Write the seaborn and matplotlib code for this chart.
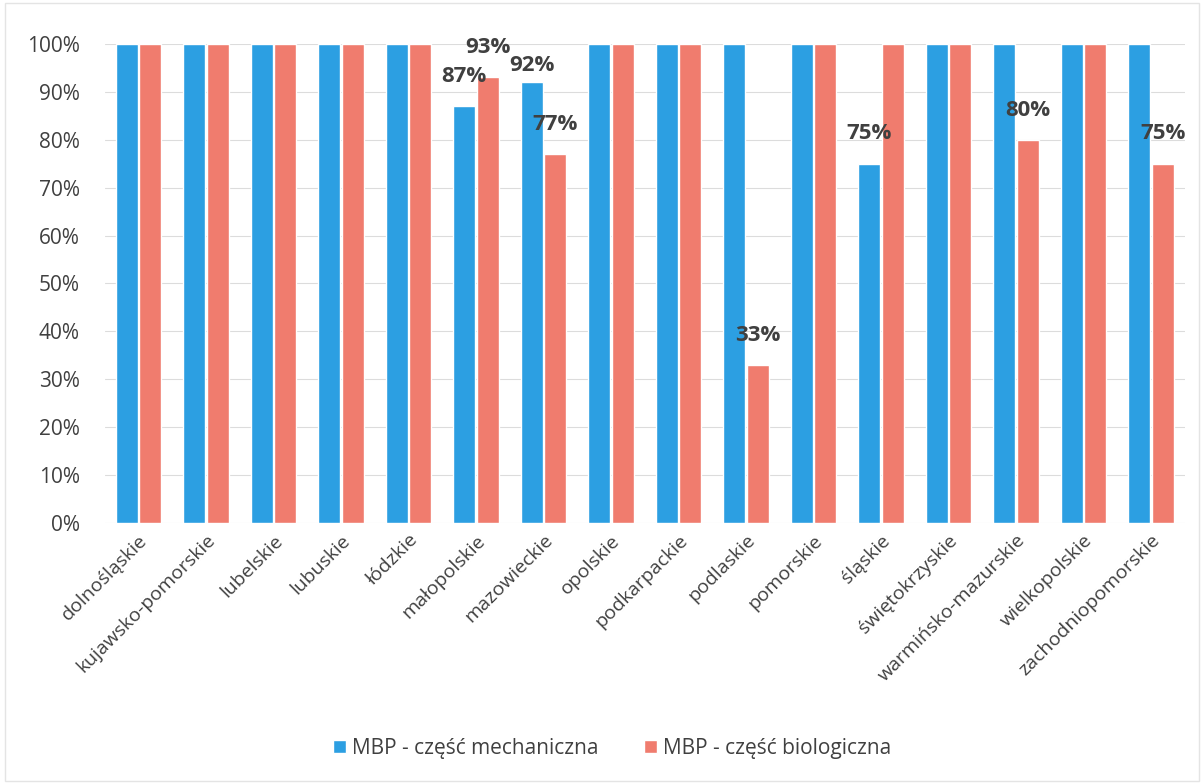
import pandas as pd
import seaborn as sns
import matplotlib.pyplot as plt
from matplotlib.ticker import FuncFormatter

regions = ['dolnośląskie', 'kujawsko-pomorskie', 'lubelskie', 'lubuskie', 'łódzkie',
           'małopolskie', 'mazowieckie', 'opolskie', 'podkarpackie', 'podlaskie',
           'pomorskie', 'śląskie', 'świętokrzyskie', 'warmińsko-mazurskie',
           'wielkopolskie', 'zachodniopomorskie']
mech = [100, 100, 100, 100, 100, 87, 92, 100, 100, 100, 100, 75, 100, 100, 100, 100]
bio = [100, 100, 100, 100, 100, 93, 77, 100, 100, 33, 100, 100, 100, 80, 100, 75]
series = ['MBP - część mechaniczna', 'MBP - część biologiczna']

df = pd.concat([
    pd.DataFrame({'region': regions, 'val': mech, 'typ': series[0]}),
    pd.DataFrame({'region': regions, 'val': bio, 'typ': series[1]}),
])

sns.set_style('white')
plt.rcParams['font.family'] = ['Open Sans', 'DejaVu Sans']

fig = plt.figure(figsize=(12.04, 7.84), dpi=100)
ax = fig.add_axes([0.087, 0.333, 0.897, 0.611])
pal = {series[0]: '#2C9FE2', series[1]: '#F07C6E'}
sns.barplot(data=df, x='region', y='val', hue='typ', palette=pal, width=0.7, gap=0.08,
            saturation=1, ax=ax, legend=True)

ax.set_ylim(0, 100)
ax.set_yticks(range(0, 101, 10))
ax.yaxis.set_major_formatter(FuncFormatter(lambda v, p: f'{int(v)}%'))
ax.grid(axis='y', color='#dcdcdc', lw=0.8)
ax.set_axisbelow(True)
for s in ax.spines.values():
    s.set_visible(False)
ax.set_xlabel('')
ax.set_ylabel('')
ax.tick_params(axis='y', labelsize=15, colors='#404040', length=0, pad=18)
ax.tick_params(axis='x', labelsize=14, colors='#404040', length=0, pad=6)
plt.setp(ax.get_xticklabels(), rotation=45, ha='right', rotation_mode='anchor')

# etykiety dla wartości < 100% (mazowieckie mech. przesunięta niżej, żeby nie nachodziła na 93%)
for ci, cont in enumerate(ax.containers):
    for bi, bar in enumerate(cont):
        h = bar.get_height()
        if h < 100:
            off = 1.3 if (ci == 0 and regions[bi] == 'mazowieckie') else 4
            ax.text(bar.get_x() + bar.get_width() / 2, h + off, f'{int(h)}%',
                    ha='center', va='bottom', fontsize=16, fontweight='bold',
                    color='#404040', clip_on=False)

ax.legend(loc='center', bbox_to_anchor=(0.47, -0.47), ncol=2, frameon=False,
          fontsize=15, handlelength=0.6, handleheight=0.6, columnspacing=2.2,
          handletextpad=0.3, labelcolor='#404040')

fig.patches.append(plt.Rectangle((0.004, 0.004), 0.992, 0.992, transform=fig.transFigure,
                                 fill=False, ec='#e4e4e4', lw=1))
fig.savefig('out.png', dpi=100)
